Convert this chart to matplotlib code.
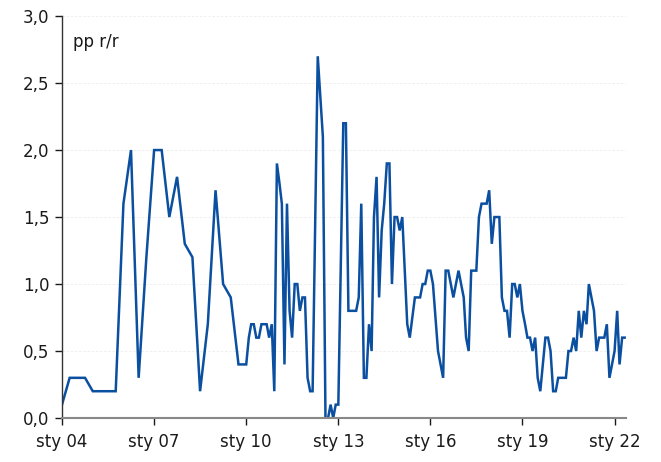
import matplotlib

matplotlib.use("Agg")
import matplotlib.pyplot as plt
import pandas as pd
from matplotlib.ticker import FuncFormatter, MultipleLocator

# quarterly readings 2004-2009
quarter_dates = [
    "2004-01", "2004-04", "2004-07", "2004-10",
    "2005-01", "2005-04", "2005-07", "2005-10",
    "2006-01", "2006-04", "2006-07", "2006-10",
    "2007-01", "2007-04", "2007-07", "2007-10",
    "2008-01", "2008-04", "2008-07", "2008-10",
    "2009-01", "2009-04", "2009-07", "2009-10",
]
quarter_values = [
    0.1, 0.3, 0.3, 0.3,
    0.2, 0.2, 0.2, 0.2,
    1.6, 2.0, 0.3, 1.2,
    2.0, 2.0, 1.5, 1.8,
    1.3, 1.2, 0.2, 0.7,
    1.7, 1.0, 0.9, 0.4,
]

# monthly readings 2010 onwards (some months missing)
month_dates = [
    "2010-01", "2010-02", "2010-03", "2010-04", "2010-05", "2010-06",
    "2010-07", "2010-08", "2010-09", "2010-10", "2010-11", "2010-12",
    "2011-01", "2011-02", "2011-03", "2011-04", "2011-05", "2011-06",
    "2011-07", "2011-08", "2011-09", "2011-10", "2011-11", "2011-12",
    "2012-01", "2012-02", "2012-03", "2012-05", "2012-07", "2012-08",
    "2012-09", "2012-10", "2012-11", "2012-12",
    "2013-01", "2013-03", "2013-04", "2013-05", "2013-06", "2013-07",
    "2013-08", "2013-09", "2013-10", "2013-11", "2013-12",
    "2014-01", "2014-02", "2014-03", "2014-04", "2014-05", "2014-06",
    "2014-07", "2014-08", "2014-09", "2014-10", "2014-11", "2014-12",
    "2015-01", "2015-02", "2015-04", "2015-05", "2015-07", "2015-08",
    "2015-09", "2015-10", "2015-11", "2015-12",
    "2016-01", "2016-02", "2016-04", "2016-06", "2016-07", "2016-08",
    "2016-10", "2016-12",
    "2017-02", "2017-03", "2017-04", "2017-05", "2017-07", "2017-08",
    "2017-09", "2017-11", "2017-12",
    "2018-01", "2018-02", "2018-04", "2018-05", "2018-06", "2018-07",
    "2018-08", "2018-09", "2018-10", "2018-11", "2018-12",
    "2019-01", "2019-02", "2019-03", "2019-04", "2019-05", "2019-06",
    "2019-07", "2019-08", "2019-09", "2019-10", "2019-11", "2019-12",
    "2020-01", "2020-02", "2020-03", "2020-04", "2020-05", "2020-06",
    "2020-07", "2020-08", "2020-09", "2020-10", "2020-11", "2020-12",
    "2021-01", "2021-02", "2021-03", "2021-04", "2021-05", "2021-06",
    "2021-07", "2021-08", "2021-09", "2021-10", "2021-11",
    "2022-01", "2022-02", "2022-03", "2022-04", "2022-05",
]
month_values = [
    0.4, 0.6, 0.7, 0.7, 0.6, 0.6,
    0.7, 0.7, 0.7, 0.6, 0.7, 0.2,
    1.9, 1.75, 1.6, 0.4, 1.6, 0.8,
    0.6, 1.0, 1.0, 0.8, 0.9, 0.9,
    0.3, 0.2, 0.2, 2.7, 2.1, 0.0,
    0.0, 0.1, 0.0, 0.1,
    0.1, 2.2, 2.2, 0.8, 0.8, 0.8,
    0.8, 0.9, 1.6, 0.3, 0.3,
    0.7, 0.5, 1.5, 1.8, 0.9, 1.4,
    1.6, 1.9, 1.9, 1.0, 1.5, 1.5,
    1.4, 1.5, 0.7, 0.6, 0.9, 0.9,
    0.9, 1.0, 1.0, 1.1,
    1.1, 1.0, 0.5, 0.3, 1.1, 1.1,
    0.9, 1.1,
    0.9, 0.6, 0.5, 1.1, 1.1, 1.5,
    1.6, 1.6, 1.7,
    1.3, 1.5, 1.5, 0.9, 0.8, 0.8,
    0.6, 1.0, 1.0, 0.9, 1.0,
    0.8, 0.7, 0.6, 0.6, 0.5, 0.6,
    0.3, 0.2, 0.4, 0.6, 0.6, 0.5,
    0.2, 0.2, 0.3, 0.3, 0.3, 0.3,
    0.5, 0.5, 0.6, 0.5, 0.8, 0.6,
    0.8, 0.7, 1.0, 0.9, 0.8, 0.5,
    0.6, 0.6, 0.6, 0.7, 0.3,
    0.5, 0.8, 0.4, 0.6, 0.6,
]

tick_years = [2004, 2007, 2010, 2013, 2016, 2019, 2022]
tick_labels = ["sty 04", "sty 07", "sty 10", "sty 13", "sty 16", "sty 19", "sty 22"]

LINE_COLOR = "#0b4fa0"
TEXT_COLOR = "#1a1a1a"

dates = pd.to_datetime(quarter_dates + month_dates)
values = quarter_values + month_values

fig = plt.figure(figsize=(6.61, 4.62), dpi=100)
ax = fig.add_axes([0.0938, 0.0952, 0.853, 0.870])

ax.plot(dates, values, color=LINE_COLOR, linewidth=1.8, solid_joinstyle="miter")

ax.set_xlim(pd.Timestamp("2004-01-01"), pd.Timestamp("2022-05-15"))
ax.set_ylim(0, 3.0)

ax.set_xticks([pd.Timestamp(f"{y}-01-01") for y in tick_years])
ax.set_xticklabels(tick_labels)
ax.yaxis.set_major_locator(MultipleLocator(0.5))
ax.yaxis.set_major_formatter(FuncFormatter(lambda v, _: f"{v:.1f}".replace(".", ",")))

ax.grid(axis="y", color="#eeeeee", linewidth=0.6, linestyle=(0, (3, 2)))
ax.set_axisbelow(True)

for side in ["top", "right"]:
    ax.spines[side].set_visible(False)
ax.spines["left"].set_color("#333333")
ax.spines["left"].set_linewidth(1.0)
ax.spines["bottom"].set_color("#888888")
ax.spines["bottom"].set_linewidth(1.5)

ax.tick_params(axis="both", labelsize=12, colors=TEXT_COLOR, length=5, width=1)
ax.tick_params(axis="x", pad=6)
ax.tick_params(axis="y", pad=4)

ax.text(0.02, 0.935, "pp r/r", transform=ax.transAxes, fontsize=12, color=TEXT_COLOR,
        ha="left", va="center")

fig.savefig("out.png", dpi=100)
plt.close(fig)
